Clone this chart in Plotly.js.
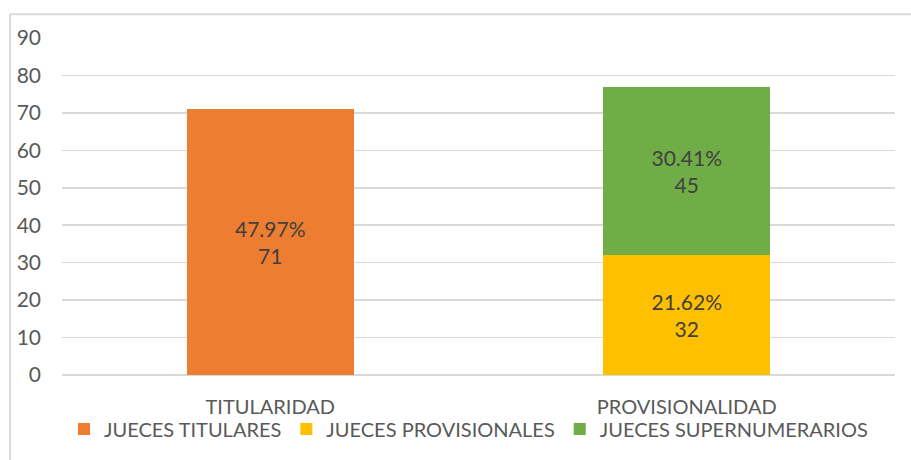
<!DOCTYPE html>
<html>
<head>
<meta charset="utf-8">
<script src="https://cdn.plot.ly/plotly-3.0.1.min.js"></script>
<style>html,body{margin:0;padding:0;background:#fff;}#chart{width:911px;height:460px;}</style>
</head>
<body>
<div id="chart"></div>
<script>
const categories = ["TITULARIDAD", "PROVISIONALIDAD"];
const seriesNames = ["JUECES TITULARES", "JUECES PROVISIONALES", "JUECES SUPERNUMERARIOS"];
const titulares = [71, null];
const provisionales = [null, 32];
const supernumerarios = [null, 45];
const titularesPct = ["47.97%", ""];
const provisionalesPct = ["", "21.62%"];
const supernumerariosPct = ["", "30.41%"];
const colors = ["#ED7D31", "#FFC000", "#70AD47"];

const FONT = "Lato, 'Open Sans', sans-serif";
const TXT = "#595959";

function mk(name, vals, pcts, color) {
  return {
    type: "bar", name: name, x: categories, y: vals,
    marker: {color: color},
    text: vals.map((v, i) => v == null ? "" : pcts[i] + "<br>" + v),
    textposition: "inside", insidetextanchor: "middle",
    textfont: {family: FONT, size: 21, color: "#404040"},
    hoverinfo: "skip"
  };
}

const data = [
  mk(seriesNames[0], titulares, titularesPct, colors[0]),
  mk(seriesNames[1], provisionales, provisionalesPct, colors[1]),
  mk(seriesNames[2], supernumerarios, supernumerariosPct, colors[2])
];

const layout = {
  width: 911, height: 460,
  margin: {l: 62, r: 16, t: 38, b: 83},
  paper_bgcolor: "#fff", plot_bgcolor: "#fff",
  barmode: "stack", bargap: 0.6,
  font: {family: FONT, color: TXT, size: 20},
  xaxis: {
    showgrid: false, showline: false, zeroline: false,
    ticks: "", ticklabelstandoff: 18,
    tickfont: {family: FONT, size: 20, color: TXT}
  },
  yaxis: {
    range: [0, 90], dtick: 10, tick0: 0,
    showgrid: true, gridcolor: "#D9D9D9", gridwidth: 1.5,
    zeroline: true, zerolinecolor: "#D9D9D9", zerolinewidth: 1.5,
    showline: false, ticks: "", ticklabelstandoff: 20,
    tickfont: {family: FONT, size: 21, color: TXT}
  },
  legend: {
    orientation: "h", x: 0.488, xanchor: "center", y: -0.16, yanchor: "middle",
    bgcolor: "rgba(0,0,0,0)",
    font: {family: FONT, size: 20, color: TXT}, traceorder: "normal",
    itemwidth: 30
  },
  showlegend: true,
  shapes: [
    {type: "line", xref: "paper", yref: "paper", x0: -0.0624, x1: 1.03, y0: 1.0708, y1: 1.0708,
     line: {color: "#D9D9D9", width: 2}},
    {type: "line", xref: "paper", yref: "paper", x0: -0.0624, x1: -0.0624, y0: 1.0708, y1: -0.3,
     line: {color: "#D9D9D9", width: 2}}
  ]
};

Plotly.newPlot("chart", data, layout, {displayModeBar: false, staticPlot: true});
</script>
</body>
</html>
